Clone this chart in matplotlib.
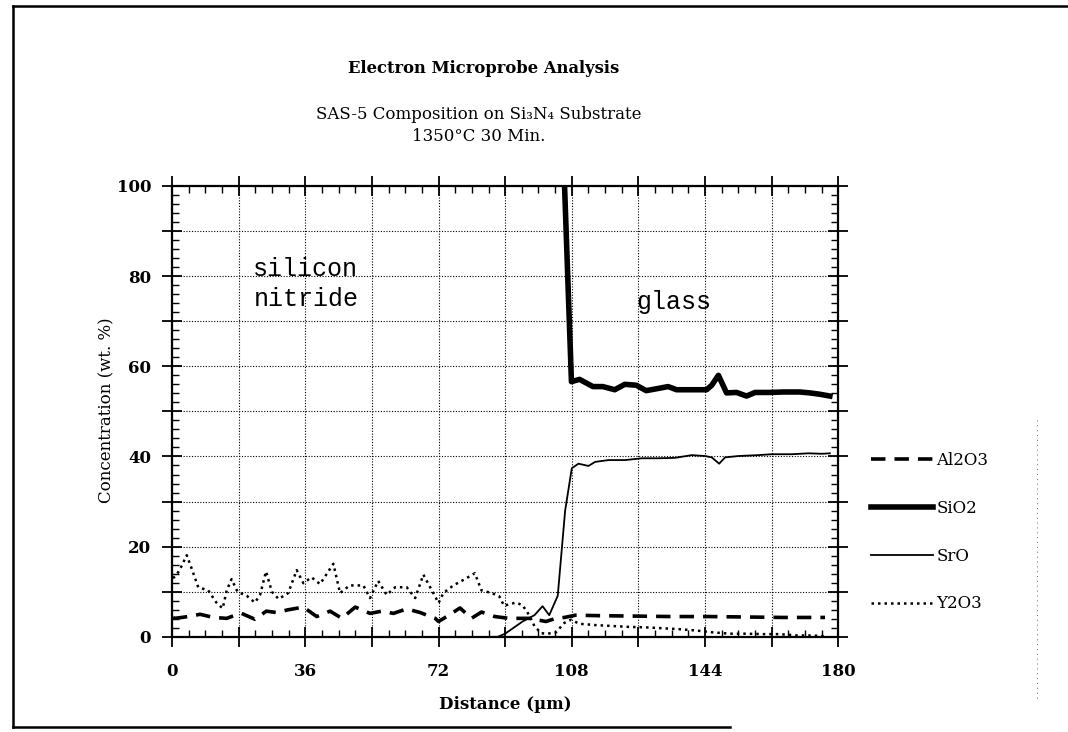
import numpy as np
import matplotlib
matplotlib.use("Agg")
import matplotlib.pyplot as plt
from matplotlib.ticker import MultipleLocator, FuncFormatter
from matplotlib.lines import Line2D

plt.rcParams['font.family'] = ['DejaVu Serif']

# -----------------------------
# Data
# -----------------------------
al2o3_x = [0.3, 0.8, 4.4, 7.6, 11.2, 14.8, 16.1, 18.8, 22.4, 25.5, 28.2, 31.4, 35.5, 39.1,
           42.7, 45.9, 49.5, 53.5, 56.7, 59.8, 63.4, 67, 71.1, 72, 74.2, 77.8, 80.9, 83.6,
           87.2, 91, 96.5, 101, 103.7, 106, 109, 115, 125, 135, 145, 155, 165, 176.4]
al2o3_y = [4.3, 4.1, 4.5, 5, 4.3, 4.1, 4.5, 5.2, 3.9, 5.7, 5.4, 6, 6.6, 4.5,
           5.7, 4.1, 6.6, 5.2, 5.7, 5.2, 6.2, 5.4, 4.1, 3.4, 4.5, 6.4, 4.1, 5.5,
           4.5, 4.1, 4.1, 3.4, 4.1, 4.3, 4.8, 4.7, 4.6, 4.5, 4.5, 4.4, 4.3, 4.3]

sio2_x = [106.0, 107.9, 110.1, 113.7, 116.4, 119.6, 122.3, 125.4, 128.1, 130.8, 134, 136.3,
          140.8, 144.4, 145.8, 147.6, 149.8, 152.5, 155.2, 157.5, 161.5, 165.1, 169.6,
          172.3, 175, 177.7]
sio2_y = [101, 56.6, 57.1, 55.5, 55.5, 54.8, 56, 55.8, 54.6, 55, 55.5, 54.8,
          54.8, 54.8, 55.8, 58, 54.1, 54.2, 53.4, 54.2, 54.2, 54.3, 54.3,
          54.1, 53.8, 53.4]

sro_x = [86.5, 88, 90, 94.7, 97.9, 100.1, 101.9, 104.2, 106.2, 108, 109.8, 112.5, 114.3,
         117.9, 122.4, 126.9, 131.4, 135.9, 140.4, 144, 145.8, 147.8, 149.4, 153, 158.4,
         162, 167.4, 171.9, 175.5, 177.7]
sro_y = [0, 0, 0.7, 3.4, 4.8, 6.8, 4.8, 9.1, 28, 37.4, 38.4, 37.9, 38.8,
         39.2, 39.2, 39.6, 39.6, 39.7, 40.3, 40.1, 39.8, 38.4, 39.8, 40.1, 40.3,
         40.5, 40.5, 40.7, 40.6, 40.7]

y2o3_x = [0.3, 1.3, 2.3, 4, 5.3, 7.1, 9.8, 12, 13.7, 14.8, 16.1, 17.7, 20.2, 22.4, 23.8,
          25.4, 27, 28.8, 31.4, 33.7, 35.5, 37.7, 40, 43.6, 45.4, 48, 51.7, 53.5, 55.7,
          58, 60.3, 63.4, 65.7, 67.9, 70.2, 72, 73.3, 76, 79.1, 81.8, 83.6, 86.4, 88.4,
          89.7, 91, 92.9, 94.7, 96.5, 97.9, 99.7, 101.5, 103.7, 106, 107.8, 110, 114.5,
          119, 123.6, 128, 132.6, 137, 141.6, 146, 150.6, 155, 159.7, 164, 169, 173, 177]
y2o3_y = [13, 13.8, 15.2, 18.1, 15.2, 11, 10.3, 7.6, 6.3, 10.3, 12.8, 10, 9.1, 7.6, 9.3,
          14.5, 10, 8.4, 9.7, 14.8, 11.9, 13.2, 11.7, 16.2, 9.7, 11.4, 11.4, 8.6, 12.4,
          9.3, 11, 11, 8.6, 13.8, 10.3, 7.5, 9.7, 11.4, 12.8, 14.1, 10.3, 9.7, 9,
          6.9, 7.2, 7.6, 7, 4.8, 2.4, 0.8, 0.7, 1, 3.1, 3.8, 2.9, 2.6,
          2.4, 2.2, 2.1, 1.9, 1.7, 1.4, 1, 0.7, 0.7, 0.6, 0.6, 0.3, 0.3, 0.1]

x_ticks = [0, 36, 72, 108, 144, 180]
y_ticks = [0, 20, 40, 60, 80, 100]

# -----------------------------
# Plot
# -----------------------------
fig = plt.figure(figsize=(10.68, 7.32), dpi=100)
ax = fig.add_axes([0.161, 0.130, 0.624, 0.616])

ax.plot(al2o3_x, al2o3_y, color='black', lw=2.6, ls=(0, (4, 2.5)), label='Al2O3')
ax.plot(sio2_x, sio2_y, color='black', lw=4, label='SiO2')
ax.plot(sro_x, sro_y, color='black', lw=1.3, label='SrO')
ax.plot(y2o3_x, y2o3_y, color='black', lw=1.8, ls=(0, (1, 1.6)), label='Y2O3')

ax.set_xlim(0, 180)
ax.set_ylim(0, 100)

ax.xaxis.set_major_locator(MultipleLocator(18))
ax.xaxis.set_minor_locator(MultipleLocator(4.5))
ax.yaxis.set_major_locator(MultipleLocator(10))
ax.yaxis.set_minor_locator(MultipleLocator(2))
ax.xaxis.set_major_formatter(FuncFormatter(lambda v, p: f"{v:.0f}" if round(v) in x_ticks else ""))
ax.yaxis.set_major_formatter(FuncFormatter(lambda v, p: f"{v:.0f}" if round(v) in y_ticks else ""))

ax.tick_params(which='major', direction='inout', length=14, width=1.3,
               top=True, right=True, labelsize=12)
ax.tick_params(which='minor', direction='in', length=5, width=1,
               top=True, right=True)
ax.tick_params(axis='x', which='major', pad=11.5)
ax.tick_params(axis='y', which='major', pad=8)
for lab in ax.get_xticklabels() + ax.get_yticklabels():
    lab.set_fontweight('bold')

ax.grid(True, which='major', color='black', lw=0.8, ls=(0, (1, 1.5)))
for s in ax.spines.values():
    s.set_linewidth(1.6)

ax.text(22, 81.5, "silicon", family='Liberation Mono', fontsize=18, va='center')
ax.text(22, 75, "nitride", family='Liberation Mono', fontsize=18, va='center')
ax.text(125.4, 74.3, "glass", family='Liberation Mono', fontsize=18, va='center')

fig.text(0.453, 0.906, "Electron Microprobe Analysis", ha='center', va='center',
         fontsize=11.8, fontweight='bold')
fig.text(0.448, 0.844, "SAS-5 Composition on Si\u2083N\u2084 Substrate", ha='center',
         va='center', fontsize=12)
fig.text(0.448, 0.814, "1350°C 30 Min.", ha='center', va='center', fontsize=12)

fig.text(0.100, 0.439, "Concentration (wt. %)", rotation=90, ha='center', va='center',
         fontsize=12)
fig.text(0.473, 0.038, "Distance (µm)", ha='center', va='center', fontsize=12,
         fontweight='bold')

leg = ax.legend(loc='center left', bbox_to_anchor=(0.816, 0.273),
                bbox_transform=fig.transFigure, frameon=False, fontsize=12,
                handlelength=3.7, handletextpad=0.2, labelspacing=1.85,
                borderpad=0, borderaxespad=0)

# page frame
fig.add_artist(Line2D([13 / 1068, 13 / 1068], [1 - 6 / 732, 1 - 727 / 732], color='black', lw=1.8))
fig.add_artist(Line2D([13 / 1068, 1.0], [1 - 6 / 732, 1 - 6 / 732], color='black', lw=1.8))
fig.add_artist(Line2D([13 / 1068, 730 / 1068], [1 - 727 / 732, 1 - 727 / 732], color='black', lw=1.8))
fig.add_artist(Line2D([1037 / 1068, 1037 / 1068], [1 - 420 / 732, 1 - 700 / 732],
                      color='black', lw=0.7, ls=(0, (1, 4)), alpha=0.6))

fig.savefig("out.png", dpi=100)
